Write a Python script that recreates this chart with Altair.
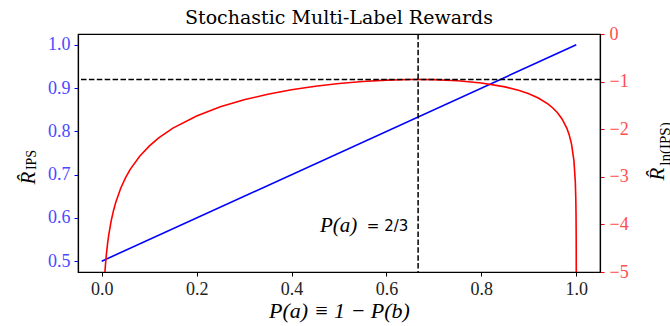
import altair as alt
import pandas as pd

# Reward of plain IPS against P(a) (left axis)
ips_p = [0.0, 1.0]
ips_r = [0.5, 1.0]

# Reward of ln(IPS) against P(a) (right axis)
ln_p = [0.0066, 0.008, 0.01, 0.0125, 0.015, 0.02, 0.025, 0.03, 0.04, 0.05,
        0.06, 0.08, 0.10, 0.12, 0.15, 0.20, 0.25, 0.30, 0.35, 0.40,
        0.45, 0.50, 0.55, 0.60, 0.65, 0.6667, 0.70, 0.75, 0.80, 0.85,
        0.88, 0.90, 0.92, 0.94, 0.95, 0.96, 0.97, 0.98, 0.985, 0.99,
        0.995, 0.998, 0.999, 0.9995, 0.9998, 0.9999, 0.99995, 0.99996]
ln_r = [-5.024, -4.832, -4.610, -4.388, -4.207, -3.922, -3.701, -3.522, -3.239, -3.021,
        -2.844, -2.567, -2.355, -2.184, -1.978, -1.721, -1.530, -1.382, -1.265, -1.172,
        -1.097, -1.040, -0.997, -0.969, -0.956, -0.955, -0.959, -0.981, -1.028, -1.111,
        -1.188, -1.257, -1.346, -1.469, -1.549, -1.650, -1.784, -1.976, -2.115, -2.313,
        -2.654, -3.109, -3.455, -3.800, -4.259, -4.605, -4.952, -5.063]

# Optimum of the ln(IPS) reward
opt_p = [0.6667]
opt_level = [-0.955]

# Annotation anchor (left-axis units)
note_p = [0.646]
note_r = [0.581]

x_ticks = [0.0, 0.2, 0.4, 0.6, 0.8, 1.0]
left_ticks = [0.5, 0.6, 0.7, 0.8, 0.9, 1.0]
right_ticks = [0, -1, -2, -3, -4, -5]

SERIF = "Liberation Serif"
x_scale = alt.Scale(domain=[-0.05, 1.05], nice=False, zero=False)
left_scale = alt.Scale(domain=[0.475, 1.025], nice=False, zero=False)
right_scale = alt.Scale(domain=[-5, 0], nice=False, zero=False)

ips_df = pd.DataFrame({"p": ips_p, "r": ips_r})
ln_df = pd.DataFrame({"p": ln_p, "r": ln_r})
vline_df = pd.DataFrame({"p": opt_p})
hline_df = pd.DataFrame({"r": opt_level})
note_df = pd.DataFrame({"p": note_p, "r": note_r})
one = pd.DataFrame({"k": [0]})

x_axis = alt.Axis(values=x_ticks, format=".1f", title="P(a)  ≡  1  −  P(b)",
                  titleFont=SERIF, titleFontSize=22, titleFontStyle="italic",
                  titleFontWeight="normal", titleColor="black", titlePadding=2,
                  labelFont=SERIF, labelFontSize=18, labelColor="#222222",
                  labelPadding=4, tickColor="black", grid=False)
left_axis = alt.Axis(values=left_ticks, format=".1f", title=None, grid=False,
                     labelFont=SERIF, labelFontSize=18, labelColor="#4a4aff",
                     tickColor="blue", labelPadding=4)
right_axis = alt.Axis(orient="right", values=right_ticks, format="d", title=None,
                      grid=False, labelFont=SERIF, labelFontSize=18,
                      labelColor="#ff4d4d", tickColor="red", labelPadding=5)

X = alt.X("p:Q", scale=x_scale, axis=x_axis)
Y_LEFT = alt.Y("r:Q", scale=left_scale, axis=left_axis)
Y_RIGHT = alt.Y("r:Q", scale=right_scale, axis=right_axis)

blue = alt.Chart(ips_df).mark_line(color="blue", strokeWidth=1.6).encode(x=X, y=Y_LEFT)

note_eq = alt.Chart(note_df).mark_text(
    text="= 2/3", font="DejaVu Sans", fontSize=15, align="right", baseline="middle",
    color="black").encode(x=X, y=Y_LEFT)
note_pa = alt.Chart(note_df).mark_text(
    text="P(a)", font=SERIF, fontSize=21, fontStyle="italic", align="right",
    baseline="middle", color="black", dx=-51).encode(x=X, y=Y_LEFT)

left = alt.layer(blue, note_eq, note_pa)

red = alt.Chart(ln_df).mark_line(color="red", strokeWidth=1.6, clip=True).encode(
    x=X, y=Y_RIGHT)
hline = alt.Chart(hline_df).mark_rule(color="black", strokeWidth=1.5,
                                      strokeDash=[5.5, 2.4]).encode(y=Y_RIGHT)
vline = alt.Chart(vline_df).mark_rule(color="black", strokeWidth=1.5,
                                      strokeDash=[5.5, 2.4]).encode(x=X)

right = alt.layer(red, hline, vline)

# Axis titles with subscripts
def label(text, x, y, size, style="normal"):
    return alt.Chart(one).mark_text(
        text=text, font=SERIF, fontSize=size, fontStyle=style, angle=270,
        align="center", baseline="middle", color="black").encode(
        x=alt.value(x), y=alt.value(y))

titles = alt.layer(
    label("R\u0302", -49, 144, 21, "italic"),
    label("IPS", -46, 126, 14),
    label("R\u0302", 580, 140, 21, "italic"),
    label("ln(IPS)", 587, 110, 15),
)

chart = alt.layer(left, right, titles).resolve_scale(y="independent").properties(
    width=522, height=238,
    padding={"left": 78, "top": 34, "right": 70, "bottom": 54},
    autosize="none",
    title=alt.Title("Stochastic Multi-Label Rewards", font="DejaVu Serif", fontSize=19,
                    fontWeight="normal", color="black", anchor="middle",
                    frame="group", offset=-3),
).configure(background="white", font=SERIF).configure_view(
    stroke="black", strokeWidth=1.2
).configure_axis(
    grid=False, domainColor="black", domainWidth=1.2, tickSize=4, tickWidth=1,
    labelFont=SERIF,
)

chart.save("out.html", embed_options={"renderer": "svg", "actions": False})
